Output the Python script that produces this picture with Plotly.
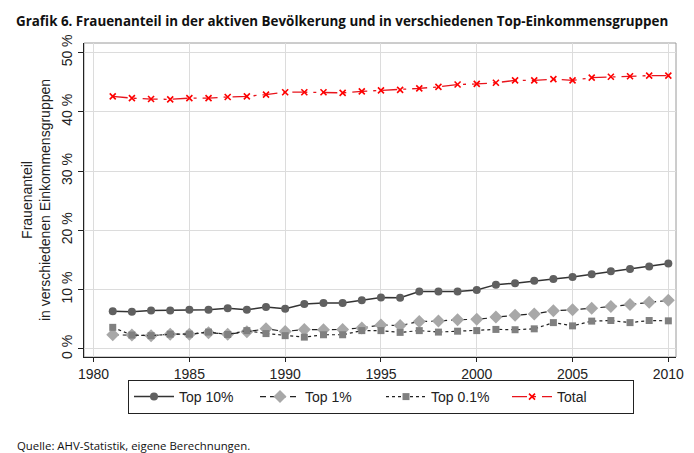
import plotly.graph_objects as go

years = list(range(1981, 2011))
top10 = [6.35, 6.3, 6.5, 6.5, 6.6, 6.6, 6.85, 6.6, 7.1, 6.8, 7.6, 7.75, 7.75, 8.2, 8.7,
         8.65, 9.7, 9.7, 9.7, 9.95, 10.85, 11.1, 11.5, 11.8, 12.15, 12.6, 13.1, 13.5, 13.9, 14.4]
top1 = [2.4, 2.35, 2.25, 2.5, 2.5, 2.75, 2.5, 2.9, 3.4, 2.95, 3.3, 3.25, 3.3, 3.55, 4.05,
        3.95, 4.65, 4.7, 4.95, 5.0, 5.4, 5.7, 5.9, 6.45, 6.6, 6.85, 7.15, 7.5, 7.9, 8.2]
top01 = [3.65, 2.35, 2.25, 2.5, 2.5, 2.85, 2.45, 3.1, 2.6, 2.25, 2.0, 2.4, 2.4, 3.1, 3.1,
         2.8, 3.1, 2.85, 3.0, 3.1, 3.3, 3.25, 3.4, 4.45, 3.9, 4.7, 4.8, 4.45, 4.8, 4.75]
total = [42.6, 42.3, 42.15, 42.1, 42.3, 42.3, 42.5, 42.6, 42.9, 43.3, 43.3, 43.3, 43.2, 43.45, 43.6,
         43.7, 43.95, 44.2, 44.6, 44.7, 44.9, 45.3, 45.3, 45.5, 45.3, 45.75, 45.9, 46.0, 46.1, 46.1]
series_names = ["Top 10%", "Top 1%", "Top 0.1%", "Total"]
ytick_vals = [0, 10, 20, 30, 40, 50]
ytick_text = ["0 %", "10 %", "20 %", "30 %", "40 %", "50 %"]
xtick_vals = [1980, 1985, 1990, 1995, 2000, 2005, 2010]

W, H = 694, 453
L, R, T, B = 76, 668, 35, 349

fig = go.Figure()
fig.add_trace(go.Scatter(x=years, y=top10, name=series_names[0], mode="lines+markers",
                         line=dict(color="#333333", width=1.5),
                         marker=dict(symbol="circle", size=8, color="#606060")))
fig.add_trace(go.Scatter(x=years, y=top1, name=series_names[1], mode="lines+markers",
                         line=dict(color="#222222", width=1.2, dash="6px,4px"),
                         marker=dict(symbol="diamond", size=10, color="#a8a8a8")))
fig.add_trace(go.Scatter(x=years, y=top01, name=series_names[2], mode="lines+markers",
                         line=dict(color="#222222", width=1.2, dash="dot"),
                         marker=dict(symbol="square", size=7, color="#808080")))
fig.add_trace(go.Scatter(x=years, y=total, name=series_names[3], mode="lines+markers",
                         line=dict(color="#e8141c", width=1.3, dash="longdashdot"),
                         marker=dict(symbol="x-thin", size=6, color="#ff0000",
                                     line=dict(color="#ff0000", width=1.6))))

axis_font = dict(family="Liberation Sans, Arial, sans-serif", size=14, color="#222222")
fig.update_xaxes(range=[1979.5, 2010.4], tickvals=xtick_vals, ticks="outside", ticklen=4,
                 tickcolor="#222", showgrid=True, gridcolor="#dcdcdc", gridwidth=1,
                 showline=True, linecolor="#222", linewidth=1.2, zeroline=False,
                 tickfont=axis_font)
fig.update_yaxes(range=[-1.35, 51.6], tickvals=ytick_vals, ticktext=ytick_text,
                 tickangle=-90, ticks="outside", ticklen=5, tickcolor="#222",
                 showgrid=True, gridcolor="#dcdcdc", gridwidth=1,
                 showline=True, linecolor="#222", linewidth=1.2, zeroline=False,
                 tickfont=axis_font,
                 title=dict(text="Frauenanteil<br>in verschiedenen Einkommensgruppen",
                            font=dict(family="Liberation Sans, Arial, sans-serif", size=14,
                                      color="#222"), standoff=5))

# plot-region outline (top and right)
fig.add_shape(type="rect", xref="paper", yref="paper", x0=0, y0=0, x1=1, y1=1,
              line=dict(color="#9a9a9a", width=1), layer="below")

def px(xp):
    return (xp - L) / (R - L)

def py(yp):
    return (B - yp) / (B - T)

fig.add_annotation(text="<b>Grafik 6. Frauenanteil in der aktiven Bevölkerung und in verschiedenen Top-Einkommensgruppen</b>",
                   xref="paper", yref="paper", x=px(6), y=py(2), xanchor="left", yanchor="top",
                   showarrow=False, font=dict(family="Open Sans, sans-serif", size=13.4, color="#111"))
fig.add_annotation(text="Quelle: AHV-Statistik, eigene Berechnungen.",
                   xref="paper", yref="paper", x=px(7), y=py(428), xanchor="left", yanchor="top",
                   showarrow=False, font=dict(family="Open Sans, sans-serif", size=11.4, color="#111"))

fig.update_layout(
    width=W, height=H,
    margin=dict(l=L, r=W - R, t=T, b=H - B),
    paper_bgcolor="white", plot_bgcolor="white",
    showlegend=True,
    legend=dict(orientation="h", x=px(373), y=py(372), xanchor="center", yanchor="top",
                bordercolor="#222", borderwidth=1, bgcolor="rgba(0,0,0,0)",
                font=dict(family="Liberation Sans, Arial, sans-serif", size=14, color="#222"),
                entrywidth=71, itemwidth=40, tracegroupgap=0),
)

fig.write_html("out.html")
